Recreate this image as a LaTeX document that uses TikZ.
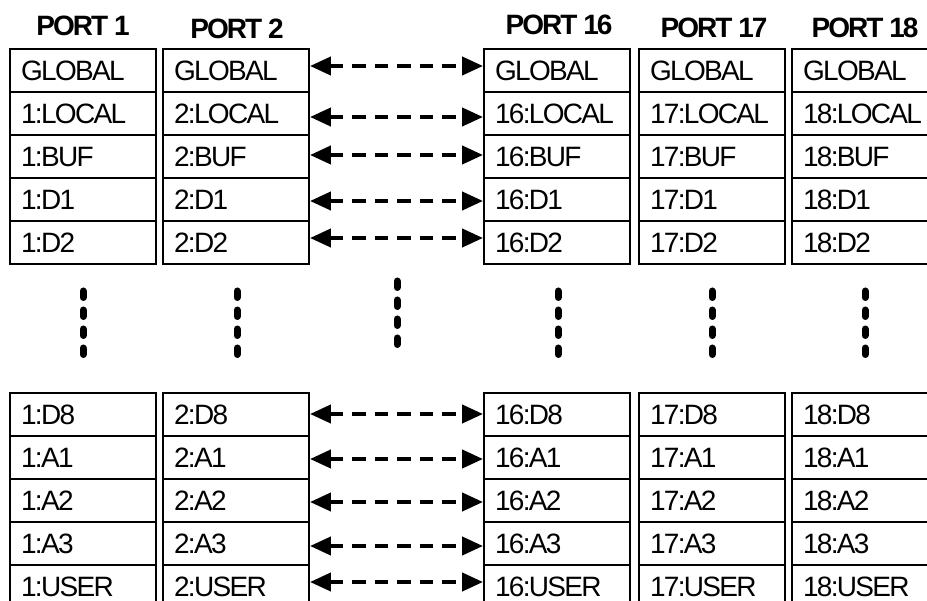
\documentclass[tikz,border=0pt]{standalone}
\usepackage{fontspec}
\setmainfont{Liberation Sans}
\newfontfamily\cellfont[LetterSpace=-6]{Liberation Sans}
\newfontfamily\hdrfont[LetterSpace=-7]{Liberation Sans}
\usetikzlibrary{arrows.meta}
\tikzset{
  cell/.style={draw, line width=1.9pt, minimum height=43pt, text width=124pt,
    inner xsep=11pt, inner ysep=0pt, align=left, text height=20pt, text depth=0pt,
    font=\cellfont\fontsize{28}{30}\selectfont},
  hdr/.style={font=\hdrfont\bfseries\fontsize{28}{30}\selectfont, inner sep=0pt,
    text height=20pt, text depth=0pt},
  biarrow/.style={line width=4pt, dash pattern=on 13.5pt off 9pt,
    {Triangle[length=21pt,width=18pt]}-{Triangle[length=21pt,width=18pt]}},
  vdots/.style={line width=7pt, line cap=round, dash pattern=on 6.5pt off 12.5pt}
}
\begin{document}
\begin{tikzpicture}[x=1pt, y=-1pt]
\useasboundingbox (0,0) rectangle (927,601);
\clip (0,0) rectangle (927,601);
% headers
\node[hdr] (h1) at (83,25.5) {PORT 1};
\node[hdr] (h2) at (237,29) {PORT 2};
\node[hdr] (h16) at (559,25) {PORT 16};
\node[hdr] (h17) at (714,28) {PORT 17};
\node[hdr] (h18) at (865,28) {PORT 18};
% cells
\foreach \c/\x in {1/83,2/236,16/557,17/712,18/865}{
  \node[cell] (c\c r1) at (\x,70.5) {GLOBAL};
  \foreach \r/\lab/\y in {2/LOCAL/113.5,3/BUF/156.5,4/D1/199.5,5/D2/242.5,
      6/D8/414.5,7/A1/457.5,8/A2/500.5,9/A3/543.5,10/USER/586.5}{
    \node[cell] (c\c r\r) at (\x,\y) {\c:\lab};
  }
}
% arrows (small per-row offsets as in the reference)
\foreach \r/\dy in {1/4.5,2/-3.5,3/1.5,4/-1.5,5/4.5,6/0.5,7/-1.5,8/-1.5,9/-2.5,10/4.5}{
  \draw[biarrow] ([yshift=\dy pt]c2r\r.east) -- ([yshift=\dy pt]c16r\r.west);
}
% vertical dots
\foreach \x in {83,237,558,712,865}{
  \draw[vdots] (\x,291) -- (\x,356);
}
\draw[vdots] (397,281) -- (397,348);
\end{tikzpicture}
\end{document}
